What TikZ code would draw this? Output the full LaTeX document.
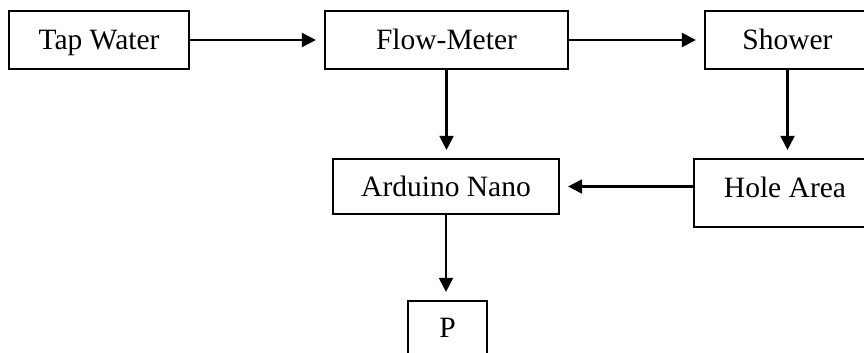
\documentclass[tikz,border=0pt]{standalone}
\usepackage{fontspec}
\setmainfont{Liberation Serif}
\usetikzlibrary{arrows.meta}
\begin{document}
\begin{tikzpicture}[x=1pt,y=-1pt,
  box/.style={draw, line width=2.2pt, inner sep=0pt, text height=19pt, text depth=0pt, font=\fontsize{29.5}{34}\selectfont},
  conn/.style={line width=2.2pt, -{Triangle[length=14pt,width=14pt]}, shorten >=8pt}]
\useasboundingbox (0,0) rectangle (864,353);
\clip (0,0) rectangle (864,353);
\node[box, minimum width=180pt, minimum height=58pt] (tap) at (99,40) {Tap Water};
\node[box, minimum width=243pt, minimum height=58pt] (flow) at (446.5,40) {Flow-Meter};
\node[box, minimum width=165pt, minimum height=58pt] (shower) at (787.5,40) {Shower};
\node[box, minimum width=226pt, minimum height=55pt] (ard) at (446,186.5) {Arduino Nano};
\node[box, minimum width=182pt, minimum height=68pt, text depth=10pt] (hole) at (785,193) {Hole Area};
\node[box, minimum width=79pt, minimum height=54pt] (p) at (447.5,328) {P};
\draw[conn] (tap) -- (flow);
\draw[conn] (flow) -- (shower);
\draw[conn] (flow.south) -- (flow.south |- ard.north);
\draw[conn] (shower.south) -- (shower.south |- hole.north);
\draw[conn] (hole.west |- ard.east) -- (ard.east);
\draw[conn] (ard.south) -- (ard.south |- p.north);
\end{tikzpicture}
\end{document}
